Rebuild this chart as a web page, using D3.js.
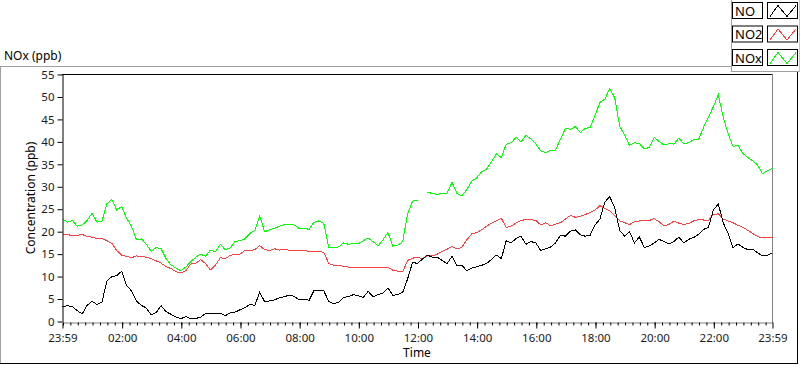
<!DOCTYPE html>
<html>
<head>
<meta charset="utf-8">
<script src="https://cdn.jsdelivr.net/npm/d3@7"></script>
<style>
  body { margin: 0; background: #fff; }
  text { font-family: "Noto Sans", "Open Sans", sans-serif; }
</style>
</head>
<body>
<div id="chart"></div>
<script>
// sample every 10 minutes, starting 23:59 the day before
var sampleStep = 10

var seriesNames = ["NO", "NO2", "NOx"]
var seriesColors = ["#000000", "#ff4040", "#00ff00"]

var noValues = [
    3.3, 3.5, 3.3, 2.4, 1.7, 3.6, 4.5, 3.8, 4.3, 9.0,
    10.0, 10.2, 11.2, 8.0, 6.8, 4.5, 3.6, 3.0, 1.5, 2.0,
    3.5, 2.2, 1.6, 1.0, 0.6, 1.1, 0.6, 0.7, 0.9, 1.8,
    1.7, 1.8, 1.9, 1.3, 1.9, 2.1, 2.6, 3.1, 3.8, 3.6,
    6.5, 4.4, 4.6, 4.8, 5.3, 5.5, 5.9, 5.6, 4.8,
    5.0, 4.7, 6.9, 6.8, 6.8, 4.5, 3.9, 4.3, 5.4, 5.5,
    6.0, 5.7, 5.4, 6.7, 5.5, 6.0, 6.3, 7.5, 5.8, 6.0,
    6.5, 9.5, 13.2, 12.9, 13.9, 14.8, 14.3, 14.3, 13.6, 12.9,
    14.5, 12.4, 12.5, 11.3, 11.9, 12.2, 12.5, 12.9, 13.8, 14.8,
    14.0, 18.0, 17.5, 18.5, 19.0, 17.2, 17.8, 17.5,
    15.8, 16.2, 16.6, 17.5, 19.2, 19.0, 20.1, 20.4, 19.3, 19.0,
    19.2, 21.5, 22.8, 26.6, 27.8, 25.3, 20.3, 19.0, 20.0, 17.5,
    18.8, 16.5, 16.8, 17.5, 18.3, 17.8, 17.3, 17.8, 18.8, 17.5,
    18.3, 18.7, 19.4, 20.5, 21.0, 24.8, 26.2, 22.0, 19.6, 16.4,
    17.3, 16.5, 16.0, 16.1, 15.3, 14.6, 14.8, 15.3
]

var no2Values = [
    19.5, 19.3, 19.2, 19.2, 19.4, 18.9, 18.8, 18.4, 18.5, 18.0,
    17.4, 15.8, 14.8, 14.5, 14.2, 14.6, 14.5, 14.3, 14.0, 13.5,
    13.0, 12.2, 11.8, 11.1, 10.8, 11.3, 12.8, 12.9, 13.8, 12.9,
    11.5, 12.5, 14.2, 14.0, 14.7, 15.0, 15.0, 15.8, 15.8, 16.0,
    16.9, 16.0, 15.8, 16.2, 15.9, 16.0, 15.9, 15.7, 15.7,
    15.8, 15.6, 15.5, 15.6, 15.4, 12.9, 12.5, 12.5, 12.3, 12.1,
    12.0, 12.1, 12.0, 12.1, 12.1, 12.0, 12.1, 12.1, 11.4, 11.2,
    11.1, 13.6, 14.1, 14.3, 14.0, 14.6, 14.6, 15.0, 15.6, 16.1,
    16.7, 16.2, 16.5, 18.2, 19.5, 19.8, 20.4, 21.2, 21.9, 22.4,
    23.0, 20.9, 21.3, 21.9, 22.5, 22.7, 22.7, 22.5,
    21.5, 22.0, 21.3, 21.7, 22.0, 22.8, 23.6, 23.2, 23.4, 23.8,
    24.3, 24.8, 25.8, 25.2, 24.6, 23.5, 22.4, 22.0, 21.6, 22.2,
    22.4, 22.6, 22.5, 22.9, 22.2, 21.3, 21.6, 22.4, 21.9, 21.6,
    21.8, 22.4, 22.7, 22.6, 22.5, 23.8, 24.0, 22.8, 22.4, 22.0,
    21.4, 21.0, 20.3, 19.6, 18.9, 18.6, 18.7, 18.8
]

var noxValues = [
    22.9, 22.1, 22.5, 21.2, 21.5, 22.5, 24.1, 22.1, 22.3, 26.2,
    27.2, 24.8, 25.6, 23.0, 21.2, 18.2, 18.4, 17.2, 15.6, 16.5,
    16.2, 14.0, 12.6, 11.9, 11.3, 12.1, 13.3, 14.3, 15.0, 14.5,
    15.9, 15.5, 17.2, 16.0, 16.4, 17.8, 18.0, 18.4, 19.6, 20.3,
    23.5, 20.0, 20.4, 20.8, 21.2, 21.6, 21.7, 21.5, 20.7,
    20.8, 20.5, 22.1, 22.4, 21.8, 16.5, 16.5, 16.6, 17.5, 17.2,
    17.4, 17.3, 18.0, 18.6, 17.8, 16.8, 18.2, 19.8, 16.8, 17.0,
    17.8, 24.0, 26.8, 27.0, null, 28.8, 28.5, 28.3, 28.6, 28.6,
    31.0, 28.5, 28.0, 29.4, 31.2, 32.0, 33.3, 33.9, 35.6, 37.3,
    36.5, 39.5, 39.8, 41.0, 40.0, 41.5, 40.6, 39.5,
    38.0, 37.6, 38.1, 38.2, 40.6, 43.0, 42.8, 43.4, 42.1, 43.0,
    43.2, 45.9, 48.8, 49.5, 51.9, 49.8, 43.5, 41.5, 39.2, 39.8,
    39.6, 38.5, 38.7, 41.0, 40.1, 39.3, 39.6, 39.5, 40.8, 39.6,
    39.8, 40.5, 40.5, 43.2, 45.5, 47.8, 50.5, 45.5, 41.8, 39.0,
    39.2, 37.4, 36.5, 35.8, 34.8, 32.9, 33.6, 34.1
]

var yTickValues = [0, 5, 10, 15, 20, 25, 30, 35, 40, 45, 50, 55]
var xTickLabels = ["23:59", "02:00", "04:00", "06:00", "08:00", "10:00", "12:00",
    "14:00", "16:00", "18:00", "20:00", "22:00", "23:59"]

var width = 800,
    height = 365

var svg = d3.select("#chart")
    .append("svg")
    .attr("width", width)
    .attr("height", height)

// panel frame (sunken look)
var frame = svg.append("g")
frame.append("line").attr("x1", 0).attr("x2", 731).attr("y1", 66.5).attr("y2", 66.5).style("stroke", "#a0a0a0")
frame.append("line").attr("x1", 0.5).attr("x2", 0.5).attr("y1", 66).attr("y2", 364).style("stroke", "#a0a0a0")
frame.append("line").attr("x1", 0).attr("x2", 798).attr("y1", 363.5).attr("y2", 363.5).style("stroke", "#000")
frame.append("line").attr("x1", 797.5).attr("x2", 797.5).attr("y1", 72).attr("y2", 364).style("stroke", "#000")
// legend panel
frame.append("line").attr("x1", 731.5).attr("x2", 731.5).attr("y1", 0).attr("y2", 72).style("stroke", "#a0a0a0")
frame.append("line").attr("x1", 731).attr("x2", 799).attr("y1", 71.5).attr("y2", 71.5).style("stroke", "#a0a0a0")
frame.append("line").attr("x1", 799.5).attr("x2", 799.5).attr("y1", 0).attr("y2", 72).style("stroke", "#c8c8c8")

svg.append("text")
    .attr("x", 4)
    .attr("y", 60)
    .style("font-size", "12px")
    .style("fill", "#000")
    .text("NOx (ppb)")

var plot = { left: 62, right: 772, top: 74, bottom: 322 }

var t0 = new Date(2024, 0, 1, 23, 59)
var t1 = d3.timeHour.offset(t0, 24)

var x = d3.scaleTime()
    .domain([t0, t1])
    .range([plot.left + 0.5, plot.right + 0.5])

var y = d3.scaleLinear()
    .domain([0, 55])
    .range([plot.bottom - 0.5, plot.top + 0.5])

var times = noValues.map(function(d, i) { return d3.timeMinute.offset(t0, i * sampleStep) })
var series = [noValues, no2Values, noxValues]

// plot border: black left/top, grey right/bottom
svg.append("line").attr("x1", plot.left).attr("x2", plot.right + 1).attr("y1", plot.top + 0.5).attr("y2", plot.top + 0.5).style("stroke", "#000")
svg.append("line").attr("x1", plot.right + 0.5).attr("x2", plot.right + 0.5).attr("y1", plot.top).attr("y2", plot.bottom + 1).style("stroke", "#808080")

var line = d3.line()
    .defined(function(d) { return d.v != null })
    .x(function(d) { return x(d.t) })
    .y(function(d) { return y(d.v) })

// draw NOx first so NO sits on top
var order = [2, 1, 0]
order.forEach(function(k) {
    var pts = series[k].map(function(v, i) { return { t: times[i], v: v } })
    svg.append("path")
        .datum(pts)
        .attr("d", line)
        .style("fill", "none")
        .style("stroke", seriesColors[k])
        .style("stroke-width", 1)
        .style("shape-rendering", "crispEdges")
})

// y axis
var yAxis = svg.append("g")
    .attr("transform", "translate(" + (plot.left + 0.5) + ",0)")
    .call(d3.axisLeft(y).tickValues(yTickValues).tickSize(5).tickSizeOuter(0).tickPadding(3))
yAxis.select(".domain").style("stroke", "#000")
yAxis.selectAll("text").style("font-size", "11.5px").style("fill", "#1a1a1a").style("font-family", "'Noto Sans', sans-serif")

// x axis, minor ticks every 15 min
var minorTicks = d3.timeMinute.every(15).range(d3.timeMinute.offset(t0, 1), t1)
var xMinor = svg.append("g")
    .attr("transform", "translate(0," + (plot.bottom + 0.5) + ")")
    .call(d3.axisBottom(x).tickValues(minorTicks).tickSize(3).tickSizeOuter(0).tickFormat(""))
xMinor.select(".domain").style("stroke", "#808080")

var majorTicks = xTickLabels.map(function(lbl, i) {
    if (i == 0) return t0
    if (i == xTickLabels.length - 1) return t1
    return d3.timeHour.offset(new Date(2024, 0, 2, 0, 0), +lbl.slice(0, 2))
})
var xMajor = svg.append("g")
    .attr("transform", "translate(0," + (plot.bottom + 0.5) + ")")
    .call(d3.axisBottom(x).tickValues(majorTicks).tickSize(6).tickSizeOuter(0).tickPadding(5)
        .tickFormat(function(d, i) { return xTickLabels[i] }))
xMajor.select(".domain").remove()
xMajor.selectAll("text").style("font-size", "11.5px").style("fill", "#1a1a1a").style("font-family", "'Noto Sans', sans-serif")

// axis titles
svg.append("text")
    .attr("transform", "translate(35," + ((plot.top + plot.bottom) / 2) + ") rotate(-90)")
    .attr("text-anchor", "middle")
    .style("font-size", "12px")
    .text("Concentration (ppb)")

svg.append("text")
    .attr("x", (plot.left + plot.right) / 2)
    .attr("y", 357)
    .attr("text-anchor", "middle")
    .style("font-size", "12px")
    .text("Time")

// legend
var legend = svg.append("g")
seriesNames.forEach(function(name, i) {
    var top = 2.5 + i * 23.5
    var g = legend.append("g").attr("transform", "translate(0," + top + ")")
    g.append("rect")
        .attr("x", 732.5).attr("y", 0).attr("width", 30).attr("height", 16)
        .style("fill", "#fff").style("stroke", "#000")
    g.append("text")
        .attr("x", 735).attr("y", 13)
        .style("font-size", "13px")
        .text(name)
    g.append("rect")
        .attr("x", 767.5).attr("y", 0).attr("width", 30).attr("height", 16)
        .style("fill", "#fff").style("stroke", "#000")
    g.append("polyline")
        .attr("points", "770,14 778,3 787,14 796,3")
        .style("fill", "none")
        .style("stroke", seriesColors[i])
        .style("shape-rendering", "crispEdges")
})
</script>
</body>
</html>
